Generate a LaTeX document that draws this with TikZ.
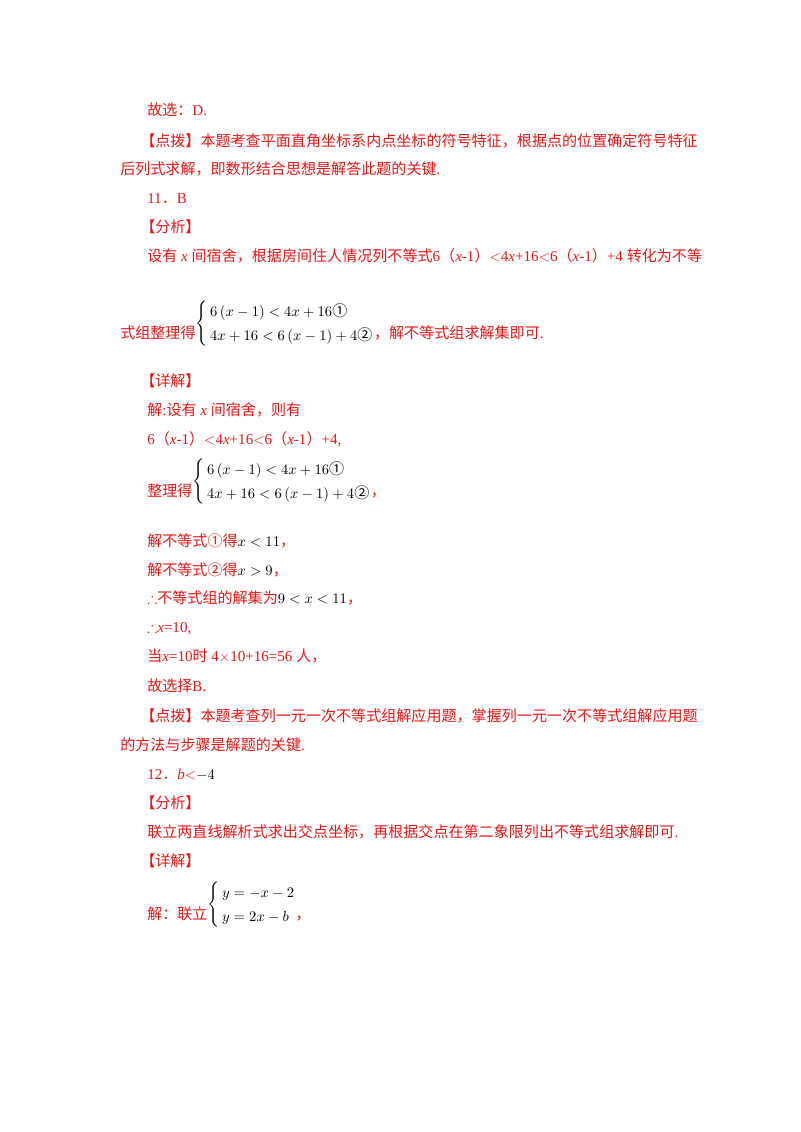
\documentclass[tikz,border=0pt]{standalone}
\usepackage{amsmath,amssymb}
\usepackage{fontspec}
\setmainfont{Liberation Serif}
\newfontfamily\cjk{Noto Sans CJK SC}
\newcommand{\zh}[1]{{\cjk #1}}
\newcommand{\cc}[1]{\text{\cjk #1}}
\newcommand{\sysb}[1]{\textcolor{black}{\raisebox{8pt}{$\renewcommand{\arraystretch}{1.35}\left\{\,\begin{array}{@{}l@{}}#1\end{array}\right.$}}}
\definecolor{rd}{RGB}{235,20,20}
\begin{document}
\begin{tikzpicture}[x=0.75pt,y=-0.75pt,
  t/.style={anchor=base west,inner sep=0pt,text=rd,font=\fontsize{11.3}{13}\selectfont}]
\useasboundingbox (0,0) rectangle (800,1132);
\node[t] (l1) at (147,115) {\zh{故选：}D.};
\node[t] (l2) at (140,146) {\zh{【点拨】本题考查平面直角坐标系内点坐标的符号特征，根据点的位置确定符号特征}};
\node[t] (l3) at (120,174) {\zh{后列式求解，即数形结合思想是解答此题的关键}.};
\node[t] (l4) at (147,203) {11\zh{．}B};
\node[t] (l5) at (140,232) {\zh{【分析】}};
\node[t] (l6) at (147,261) {\zh{设有} \textit{x} \zh{间宿舍，根据房间住人情况列不等式}6\zh{（}\textit{x}-1\zh{）}$<$4\textit{x}+16$<$6\zh{（}\textit{x}-1\zh{）}+4 \zh{转化为不等}};
\node[t] (l7) at (120,338) {\zh{式组整理得}\sysb{6\left(x-1\right)<4x+16\cc{①}\\4x+16<6\left(x-1\right)+4\cc{②}}\zh{，解不等式组求解集即可}.};
\node[t] (l8) at (140,386) {\zh{【详解】}};
\node[t] (l9) at (147,415) {\zh{解}:\zh{设有} \textit{x} \zh{间宿舍，则有}};
\node[t] (l10) at (147,444) {6\zh{（}\textit{x}-1\zh{）}$<$4\textit{x}+16$<$6\zh{（}\textit{x}-1\zh{）}+4,};
\node[t] (l11) at (147,496) {\zh{整理得}\sysb{6\left(x-1\right)<4x+16\cc{①}\\4x+16<6\left(x-1\right)+4\cc{②}}\zh{，}};
\node[t] (l12) at (147,546) {\zh{解不等式①得}\textcolor{black}{$x<11$}\zh{，}};
\node[t] (l13) at (147,575) {\zh{解不等式②得}\textcolor{black}{$x>9$}\zh{，}};
\node[t] (l14) at (147,603) {$\therefore$\zh{不等式组的解集为}\textcolor{black}{$9<x<11$}\zh{，}};
\node[t] (l15) at (147,632) {$\therefore$\textit{x}=10,};
\node[t] (l16) at (147,661) {\zh{当}\textit{x}=10\zh{时} 4$\times$10+16=56 \zh{人，}};
\node[t] (l17) at (147,691) {\zh{故选择}B.};
\node[t] (l18) at (140,721) {\zh{【点拨】本题考查列一元一次不等式组解应用题，掌握列一元一次不等式组解应用题}};
\node[t] (l19) at (120,750) {\zh{的方法与步骤是解题的关键}.};
\node[t] (l20) at (147,779) {12\zh{．}\textit{b}$<$\textcolor{black}{$-4$}};
\node[t] (l21) at (140,808) {\zh{【分析】}};
\node[t] (l22) at (147,837) {\zh{联立两直线解析式求出交点坐标，再根据交点在第二象限列出不等式组求解即可}.};
\node[t] (l23) at (140,866) {\zh{【详解】}};
\node[t] (l24) at (147,919) {\zh{解：联立}\sysb{y=-x-2\\y=2x-b}\zh{，}};
\end{tikzpicture}
\end{document}
